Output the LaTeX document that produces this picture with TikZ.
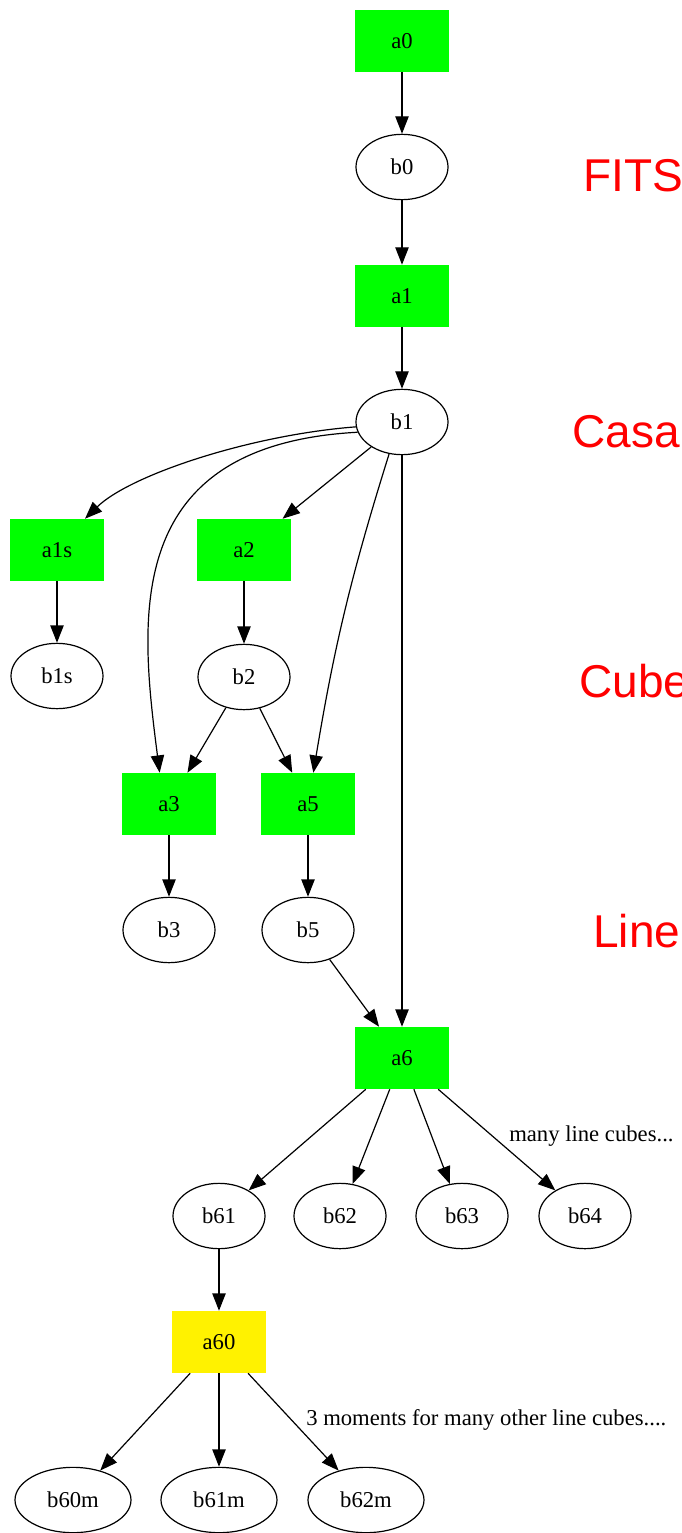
\documentclass[tikz,border=0pt]{standalone}
\usepackage{fontspec}
\setmainfont{Liberation Serif}
\setsansfont{Liberation Sans}
\usetikzlibrary{shapes.geometric,arrows.meta}

\begin{document}
\begin{tikzpicture}[x=0.75pt,y=-0.75pt,
  font=\fontsize{17}{20}\selectfont,
  schritt/.style={rectangle,fill=green,minimum width=70pt,minimum height=46.5pt,inner sep=0pt},
  momente/.style={schritt,fill=yellow},
  daten/.style={ellipse,draw,line width=0.9pt,minimum width=69pt,minimum height=49pt,inner sep=0pt},
  datenm/.style={daten,minimum width=87pt},
  kante/.style={line width=0.9pt,-{Triangle[length=13pt,width=10pt]}},
  titel/.style={anchor=base west,inner sep=0pt,text=red,font=\sffamily\fontsize{34.5}{40}\selectfont},
  bem/.style={anchor=west,inner sep=0pt}]
\useasboundingbox (0,0) rectangle (681,1533);
\clip (0,0) rectangle (681,1533);
\node[schritt] (a0) at (402,41) {a0};
\node[daten] (b0) at (402,167) {b0};
\node[schritt] (a1) at (402,296) {a1};
\node[daten] (b1) at (402,422) {b1};
\node[schritt] (a1s) at (57,550) {a1s};
\node[schritt] (a2) at (244,550) {a2};
\node[daten] (b1s) at (57,676) {b1s};
\node[daten] (b2) at (244,677) {b2};
\node[schritt] (a3) at (169,804) {a3};
\node[schritt] (a5) at (308,804) {a5};
\node[daten] (b3) at (169,930) {b3};
\node[daten] (b5) at (308,930) {b5};
\node[schritt] (a6) at (402,1058) {a6};
\node[daten] (b61) at (219,1216) {b61};
\node[daten] (b62) at (340,1216) {b62};
\node[daten] (b63) at (462,1216) {b63};
\node[daten] (b64) at (585,1216) {b64};
\node[momente] (a60) at (219,1342) {a60};
\node[datenm] (b60m) at (73,1500) {b60m};
\node[datenm] (b61m) at (219,1500) {b61m};
\node[datenm] (b62m) at (366,1500) {b62m};
\draw[kante] (a0) -- (b0);
\draw[kante] (b0) -- (a1);
\draw[kante] (a1) -- (b1);
% Kanten von b1
\draw[kante] (b1.186) .. controls (250,435) and (130,475) .. ([xshift=21pt]a1s.north);
\draw[kante] (b1) -- (a2);
\draw[kante] (b1.193) .. controls (120,445) and (140,620) .. ([xshift=-7pt]a3.north);
\draw[kante] (b1.248) to[bend right=4] ([xshift=4pt]a5.north);
\draw[kante] (b1) -- (a6);
\draw[kante] (a1s) -- (b1s);
\draw[kante] (a2) -- (b2);
\draw[kante] (b2) -- (a3);
\draw[kante] (b2) -- (a5);
\draw[kante] (a3) -- (b3);
\draw[kante] (a5) -- (b5);
\draw[kante] (b5) -- (a6);
\draw[kante] (a6) -- (b61);
\draw[kante] (a6) -- (b62);
\draw[kante] (a6) -- (b63);
\draw[kante] (a6) -- (b64);
\draw[kante] (b61) -- (a60);
\draw[kante] (a60) -- (b60m);
\draw[kante] (a60) -- (b61m);
\draw[kante] (a60) -- (b62m);
\node[bem] (l1) at (509,1136) {many line cubes...};
\node[bem] (l2) at (306,1420) {3 moments for many other line cubes....};
% Beschriftung rechts
\node[titel] (t1) at (583,192) {FITS};
\node[titel] (t2) at (572,447) {Casa};
\node[titel] (t3) at (579,697) {Cube};
\node[titel] (t4) at (593,947) {Line};
\end{tikzpicture}
\end{document}
